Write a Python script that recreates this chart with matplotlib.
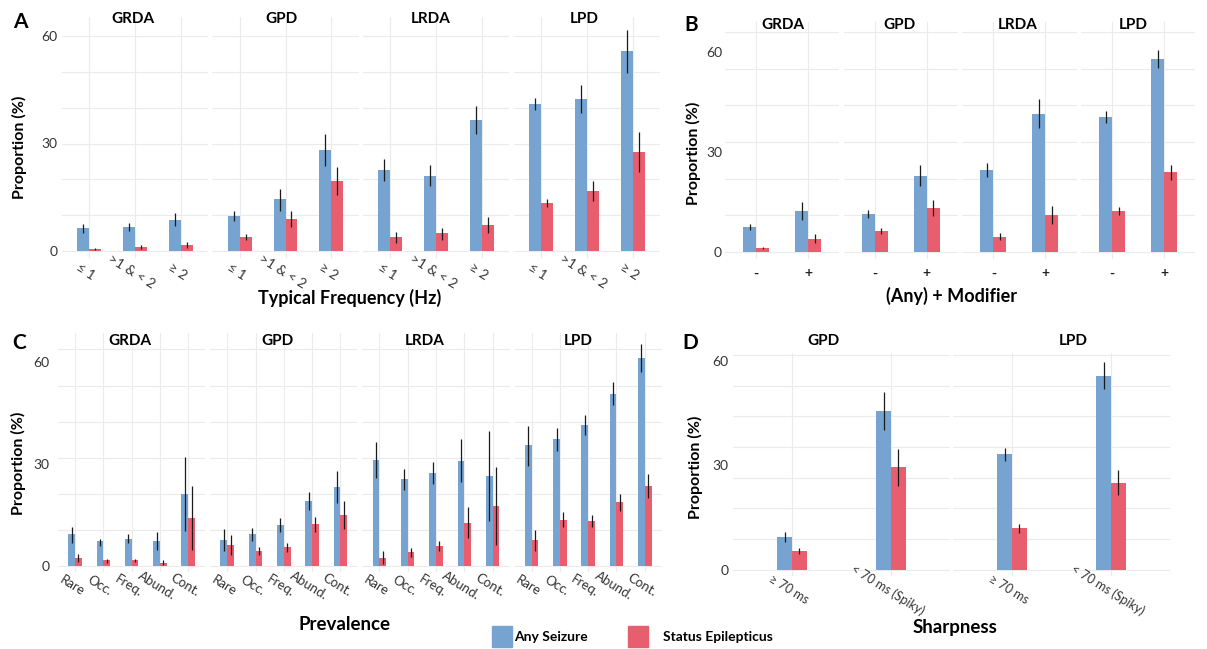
import numpy as np
import matplotlib
matplotlib.use('Agg')
import matplotlib.pyplot as plt
from matplotlib.patches import Rectangle

plt.rcParams['font.family'] = ['Lato', 'DejaVu Sans']

# ---- data ----
patterns = ['GRDA', 'GPD', 'LRDA', 'LPD']

freq_labels = ['≤ 1', '>1 & < 2', '≥ 2']
freq_sz = [6.4, 6.7, 8.7, 9.9, 14.4, 28.1, 22.5, 21.0, 36.6, 41.0, 42.3, 55.7]
freq_sz_lo = [5.1, 5.6, 6.9, 8.5, 11.3, 23.8, 19.4, 18.1, 32.6, 39.3, 38.6, 49.7]
freq_sz_hi = [7.4, 7.8, 10.6, 11.3, 17.2, 32.6, 25.7, 24.0, 40.6, 42.7, 46.2, 61.8]
freq_se = [0.6, 1.1, 1.6, 4.0, 9.0, 19.6, 3.8, 4.9, 7.3, 13.4, 16.8, 27.5]
freq_se_lo = [0.3, 0.6, 0.8, 3.1, 6.7, 15.5, 2.2, 3.1, 5.0, 12.2, 13.9, 22.1]
freq_se_hi = [0.9, 1.6, 2.5, 4.8, 11.3, 23.5, 5.2, 6.4, 9.6, 14.5, 19.6, 33.1]

mod_labels = ['-', '+']
mod_sz = [7.5, 12.3, 11.5, 22.9, 24.7, 41.5, 40.5, 57.9]
mod_sz_lo = [6.5, 9.7, 10.2, 19.8, 22.6, 37.3, 38.6, 55.1]
mod_sz_hi = [8.4, 14.9, 12.7, 26.2, 26.8, 45.9, 42.4, 60.6]
mod_se = [1.3, 4.0, 6.4, 13.1, 4.6, 11.1, 12.3, 23.9]
mod_se_lo = [1.0, 2.7, 5.5, 10.7, 3.5, 8.5, 11.0, 21.5]
mod_se_hi = [1.6, 5.4, 7.3, 15.6, 5.7, 13.7, 13.5, 26.1]

prev_labels = ['Rare', 'Occ.', 'Freq.', 'Abund.', 'Cont.']
prev_sz = [9.2, 7.2, 8.0, 7.2, 21.2, 7.5, 9.2, 12.1, 19.1, 23.1,
           31.2, 25.4, 27.4, 30.9, 26.5, 35.4, 37.2, 41.4, 50.5, 61.0]
prev_sz_lo = [6.8, 5.9, 6.8, 4.6, 10.3, 4.4, 7.4, 10.0, 16.4, 18.3,
              25.9, 22.3, 24.1, 24.5, 13.2, 29.4, 33.8, 38.4, 47.3, 56.9]
prev_sz_hi = [11.5, 8.0, 9.4, 9.8, 32.1, 10.7, 11.0, 14.1, 21.8, 27.9,
              36.4, 28.3, 30.5, 37.4, 39.6, 41.1, 40.4, 44.3, 53.9, 65.2]
prev_se = [2.3, 1.6, 1.7, 0.9, 14.1, 6.1, 4.3, 5.4, 12.2, 15.0,
           2.4, 3.9, 5.8, 12.7, 17.6, 7.5, 13.5, 13.1, 18.6, 23.5]
prev_se_lo = [1.0, 0.9, 1.0, 0.2, 4.6, 3.1, 3.2, 4.1, 9.8, 10.7,
              0.5, 2.7, 4.2, 8.1, 6.2, 4.3, 11.3, 11.3, 16.2, 20.0]
prev_se_hi = [3.4, 2.1, 2.1, 1.8, 23.4, 8.9, 5.4, 6.7, 14.4, 19.0,
              4.3, 5.1, 7.4, 17.2, 29.0, 10.5, 15.8, 14.9, 21.1, 27.1]

sharp_patterns = ['GPD', 'LPD']
sharp_labels = ['≥ 70 ms', '< 70 ms (Spiky)']
sharp_sz = [9.4, 45.6, 33.1, 55.7]
sharp_sz_lo = [8.0, 40.1, 31.3, 51.9]
sharp_sz_hi = [10.8, 51.0, 34.8, 59.5]
sharp_se = [5.5, 29.5, 11.9, 25.0]
sharp_se_lo = [4.4, 24.1, 10.6, 21.4]
sharp_se_hi = [6.2, 34.6, 13.1, 28.5]

BLUE = '#76A3D0'
RED = '#E95E6E'
GRID = '#EBEBEB'
W, H = 1207, 649

fig = plt.figure(figsize=(W / 100, H / 100), dpi=100)


def ftext(x, y, s, **kw):
    # place text using pixel coords (from top-left)
    fig.text(x / W, 1 - y / H, s, **kw)


def panel(pats, labels, sz, szlo, szhi, se, selo, sehi, lay):
    n = len(labels)
    c0, d, F = lay['c0'], lay['d'], lay['F']
    p0, p60, top, bot = lay['p0'], lay['p60'], lay['top'], lay['bot']
    s = (p0 - p60) / 60.0
    ylo, yhi = (p0 - bot) / s, (p0 - top) / s
    w = lay['w']
    for k, pat in enumerate(pats):
        x0 = c0 + k * F - 0.6 * d
        x1 = x0 + (n - 1 + 1.2) * d
        ax = fig.add_axes([x0 / W, 1 - bot / H, (x1 - x0) / W, (bot - top) / H])
        ax.set_xlim(-0.6, n - 1 + 0.6)
        ax.set_ylim(ylo, yhi)
        for sp in ax.spines.values():
            sp.set_visible(False)
        xs = np.arange(n)
        sl = slice(k * n, (k + 1) * n)
        for x in xs:
            ax.axvline(x, color=GRID, lw=0.8, zorder=0)
        for g in np.arange(0, yhi, lay['step']):
            ax.axhline(g, color=GRID, lw=0.8, zorder=0)
        ax.bar(xs - w / 2, sz[sl], w, color=BLUE, zorder=2)
        ax.bar(xs + w / 2, se[sl], w, color=RED, zorder=2)
        ax.vlines(xs - w / 2, szlo[sl], szhi[sl], color='#1a1a1a', lw=0.9, zorder=3)
        ax.vlines(xs + w / 2, selo[sl], sehi[sl], color='#1a1a1a', lw=0.9, zorder=3)
        ax.set_xticks(xs)
        if lay['rot']:
            ax.set_xticklabels(labels, rotation=lay['rot'], ha='center', va='top',
                               rotation_mode='anchor', fontsize=lay['xfs'], color='#333333')
        else:
            ax.set_xticklabels(labels, fontsize=lay['xfs'], fontweight='bold', color='#222222')
        ax.tick_params(axis='x', length=0, pad=lay['xpad'])
        if k == 0:
            ax.set_yticks([0, 30, 60])
            ax.set_yticklabels(['0', '30', '60'], fontsize=10, color='#333333')
            ax.tick_params(axis='y', length=0, pad=lay['ypad'])
        else:
            ax.set_yticks([])
        ftext(lay['strip'][k], lay['strip_y'], pat, ha='center', va='center',
              fontsize=11, fontweight='bold')


# panel A
panel(patterns, freq_labels, freq_sz, freq_sz_lo, freq_sz_hi, freq_se, freq_se_lo, freq_se_hi,
      dict(c0=89, d=45.8, F=150.7, p0=251, p60=36, top=17, bot=258, w=0.26, step=10,
           rot=-32, xfs=10, xpad=6, ypad=3, strip=[133, 281, 431, 584], strip_y=19))
# panel B
panel(patterns, mod_labels, mod_sz, mod_sz_lo, mod_sz_hi, mod_se, mod_se_lo, mod_se_hi,
      dict(c0=756, d=52, F=118.7, p0=252, p60=52, top=22, bot=259, w=0.25, step=11,
           rot=0, xfs=10, xpad=6, ypad=2, strip=[783, 900, 1018, 1133], strip_y=25))
# panel C
panel(patterns, prev_labels, prev_sz, prev_sz_lo, prev_sz_hi, prev_se, prev_se_lo, prev_se_hi,
      dict(c0=75, d=28.3, F=152.2, p0=565.7, p60=361.7, top=333, bot=572, w=0.24, step=10.6,
           rot=-32, xfs=9.5, xpad=6, ypad=6, strip=[130, 278, 425, 578], strip_y=341))
# panel D
panel(sharp_patterns, sharp_labels, sharp_sz, sharp_sz_lo, sharp_sz_hi, sharp_se, sharp_se_lo, sharp_se_hi,
      dict(c0=792, d=99, F=220, p0=569.7, p60=360.7, top=353, bot=576, w=0.15, step=8.8,
           rot=-32, xfs=9, xpad=6, ypad=3, strip=[824, 1073], strip_y=341))

# axis titles
ftext(350, 298, 'Typical Frequency (Hz)', ha='center', va='center', fontsize=13, fontweight='bold')
ftext(952, 296, '(Any) + Modifier', ha='center', va='center', fontsize=13, fontweight='bold')
ftext(345, 624, 'Prevalence', ha='center', va='center', fontsize=13.5, fontweight='bold')
ftext(955, 628, 'Sharpness', ha='center', va='center', fontsize=13.5, fontweight='bold')
for x, y in [(19, 147), (693, 153), (18, 463), (695, 467)]:
    ftext(x, y, 'Proportion (%)', ha='center', va='center', rotation=90,
          fontsize=11.5, fontweight='bold')

# panel letters
for x, y, t in [(20, 22, 'A'), (691, 25, 'B'), (19, 343, 'C'), (690, 343, 'D')]:
    ftext(x, y, t, ha='center', va='center', fontsize=15, fontweight='bold')

# legend
for x0, col, tx, lab in [(492, BLUE, 514, 'Any Seizure'), (628, RED, 663, 'Status Epilepticus')]:
    fig.patches.append(Rectangle((x0 / W, 1 - 647 / H), 20 / W, 21 / H, color=col,
                                 transform=fig.transFigure, figure=fig))
    ftext(tx, 637, lab, ha='left', va='center', fontsize=10, fontweight='bold')

fig.savefig('out.png', dpi=100)
